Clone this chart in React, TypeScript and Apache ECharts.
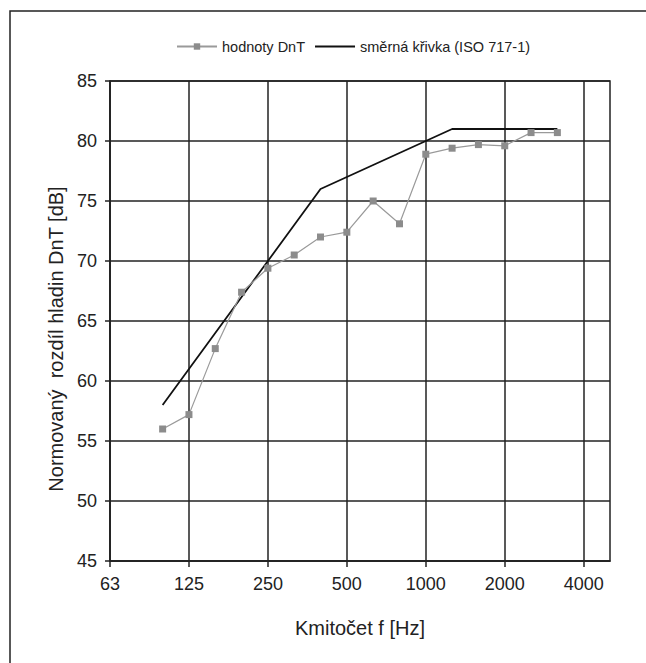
import React, { useEffect, useRef } from "react";
import * as echarts from "echarts";

const bands = ["63","80","100","125","160","200","250","315","400","500","630","800","1000","1250","1600","2000","2500","3150","4000","5000"];
const dntValues = [null, null, 56.0, 57.2, 62.7, 67.4, 69.4, 70.5, 72.0, 72.4, 75.0, 73.1, 78.9, 79.4, 79.7, 79.6, 80.7, 80.7, null, null];
const refValues = [null, null, 58, 61, 64, 67, 70, 73, 76, 77, 78, 79, 80, 81, 81, 81, 81, 81, null, null];
const yTicks = [45, 85, 5];

export default function App() {
  const ref = useRef<HTMLDivElement>(null);
  useEffect(() => {
    document.body.style.margin = "0";
    const chart = echarts.init(ref.current!, null, { renderer: "svg" });
    const font = "'Liberation Sans', Arial, sans-serif";
    chart.setOption({
      animation: false,
      backgroundColor: "#ffffff",
      textStyle: { fontFamily: font },
      graphic: [
        {
          type: "rect",
          shape: { x: 10, y: 11, width: 700, height: 700 },
          style: { fill: "none", stroke: "#222", lineWidth: 1.5 },
          silent: true,
        },
      ],
      legend: {
        top: 34,
        left: 171,
        itemWidth: 40,
        itemHeight: 8,
        itemGap: 10,
        textStyle: { fontSize: 14.5, color: "#222", fontFamily: font },
        data: [
          { name: "hodnoty DnT" },
          { name: "směrná křivka (ISO 717-1)", icon: "path://M0,0H10V0.5H0Z" },
        ],
      },
      grid: { left: 110, right: 36, top: 81, bottom: 102, show: true, borderColor: "#222", borderWidth: 1.5 },
      xAxis: {
        type: "category",
        data: bands,
        boundaryGap: false,
        name: "Kmitočet f [Hz]",
        nameLocation: "middle",
        nameGap: 57,
        nameTextStyle: { fontSize: 20, color: "#222", fontFamily: font },
        axisLine: { lineStyle: { color: "#222", width: 1.5 } },
        axisTick: { show: true, interval: (i: number) => i % 3 === 0, length: 6, lineStyle: { color: "#222", width: 1.5 } },
        axisLabel: { interval: (i: number) => i % 3 === 0, fontSize: 18, color: "#222", margin: 14, fontFamily: font },
        splitLine: { show: true, interval: (i: number) => i % 3 === 0, lineStyle: { color: "#222", width: 1.5 } },
      },
      yAxis: {
        type: "value",
        min: yTicks[0],
        max: yTicks[1],
        interval: yTicks[2],
        name: "Normovaný  rozdíl hladin DnT [dB]",
        nameLocation: "middle",
        nameGap: 42,
        nameTextStyle: { fontSize: 20, color: "#222", fontFamily: font, padding: [0, 36, 0, 0] },
        axisLine: { show: true, lineStyle: { color: "#222", width: 1.5 } },
        axisTick: { show: true, length: 5, lineStyle: { color: "#222", width: 1.5 } },
        axisLabel: { fontSize: 18, color: "#222", margin: 13, fontFamily: font },
        splitLine: { show: true, lineStyle: { color: "#222", width: 1.5 } },
      },
      series: [
        {
          name: "hodnoty DnT",
          type: "line",
          data: dntValues,
          symbol: "rect",
          symbolSize: 7,
          itemStyle: { color: "#8c8c8c" },
          lineStyle: { color: "#9a9a9a", width: 1.2 },
          z: 3,
        },
        {
          name: "směrná křivka (ISO 717-1)",
          type: "line",
          data: refValues,
          symbol: "none",
          itemStyle: { color: "#111" },
          lineStyle: { color: "#111", width: 1.8 },
          z: 2,
        },
      ],
    });
    return () => chart.dispose();
  }, []);
  return <div ref={ref} style={{ width: 646, height: 663 }} />;
}
